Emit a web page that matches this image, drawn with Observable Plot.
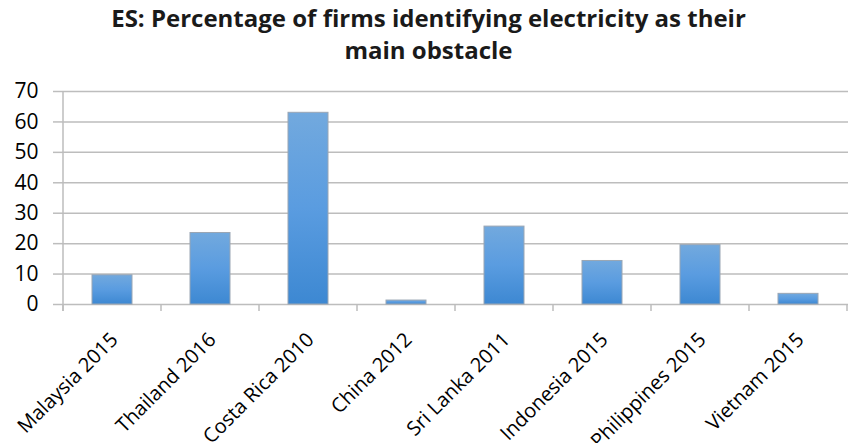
<!DOCTYPE html>
<html>
<head>
<meta charset="utf-8">
<script src="https://cdn.jsdelivr.net/npm/d3@7"></script>
<script src="https://cdn.jsdelivr.net/npm/@observablehq/plot@0.6"></script>
<style>
  html, body { margin: 0; padding: 0; background: #fff; }
  #title { width: 852px; height: 70px; box-sizing: border-box; padding-top: 2px; padding-left: 5px;
    text-align: center; font-family: "Open Sans", sans-serif; font-weight: bold; font-size: 24px;
    line-height: 32px; color: #1a1a1a; }
</style>
</head>
<body>
<div id="title">ES: Percentage of firms identifying electricity as their<br>main obstacle</div>
<div id="chart"></div>
<script>
const categories = ["Malaysia 2015", "Thailand 2016", "Costa Rica 2010", "China 2012", "Sri Lanka 2011", "Indonesia 2015", "Philippines 2015", "Vietnam 2015"];
const values = [9.6, 23.5, 63.0, 1.3, 25.6, 14.3, 19.5, 3.5];
const yTicks = [0, 10, 20, 30, 40, 50, 60, 70];

const data = categories.map((c, i) => ({country: c, value: values[i]}));

const gradientDefs = () => {
  const defs = d3.create("svg:defs");
  const lg = defs.append("linearGradient").attr("id", "barGrad")
    .attr("x1", 0).attr("y1", 0).attr("x2", 0).attr("y2", 1);
  lg.append("stop").attr("offset", "0%").attr("stop-color", "#72a9de");
  lg.append("stop").attr("offset", "50%").attr("stop-color", "#5a9ce0");
  lg.append("stop").attr("offset", "100%").attr("stop-color", "#3d88d2");
  return defs.node();
};

const axisLines = (index, scales, values, dimensions) => {
  const x = scales.x, y = scales.y;
  const bw = x.bandwidth ? x.bandwidth() : 0;
  const step = x(categories[1]) - x(categories[0]);
  const bounds = categories.map(c => x(c) + bw / 2 - step / 2);
  bounds.push(x(categories[categories.length - 1]) + bw / 2 + step / 2);
  const g = d3.create("svg:g").attr("stroke", "#bdbdbd").attr("stroke-width", 1.5).attr("fill", "none");
  const y0 = y(0), yTop = y(70);
  g.append("line").attr("x1", bounds[0]).attr("x2", bounds[0]).attr("y1", yTop).attr("y2", y0 + 7);
  for (const b of bounds) {
    g.append("line").attr("x1", b).attr("x2", b).attr("y1", y0).attr("y2", y0 + 7);
  }
  return g.node();
};

const chart = Plot.plot({
  width: 852,
  height: 373,
  marginLeft: 62,
  marginRight: 4,
  marginTop: 21,
  marginBottom: 139,
  style: {fontFamily: "Open Sans, sans-serif", background: "#fff", color: "#000", overflow: "hidden"},
  x: {domain: categories, paddingInner: 0.59, paddingOuter: 0.295, label: null},
  y: {domain: [0, 70], ticks: yTicks, label: null},
  marks: [
    gradientDefs,
    Plot.gridY(yTicks, {stroke: "#bdbdbd", strokeOpacity: 1, strokeWidth: 1.5}),
    Plot.axisY({ticks: yTicks, tickSize: 9, tickPadding: 15, fontSize: 21, stroke: "#bdbdbd", strokeWidth: 1.5, fill: "#000", label: null, tickFormat: d => d}),
    axisLines,
    Plot.barY(data, {x: "country", y: "value", fill: "url(#barGrad)", stroke: "#9aa6b4", strokeWidth: 1}),
    Plot.axisX({tickSize: 0, tickRotate: -45, fontSize: 20, tickPadding: 32, dx: 2, fill: "#000", label: null})
  ]
});
document.getElementById("chart").appendChild(chart);
</script>
</body>
</html>
